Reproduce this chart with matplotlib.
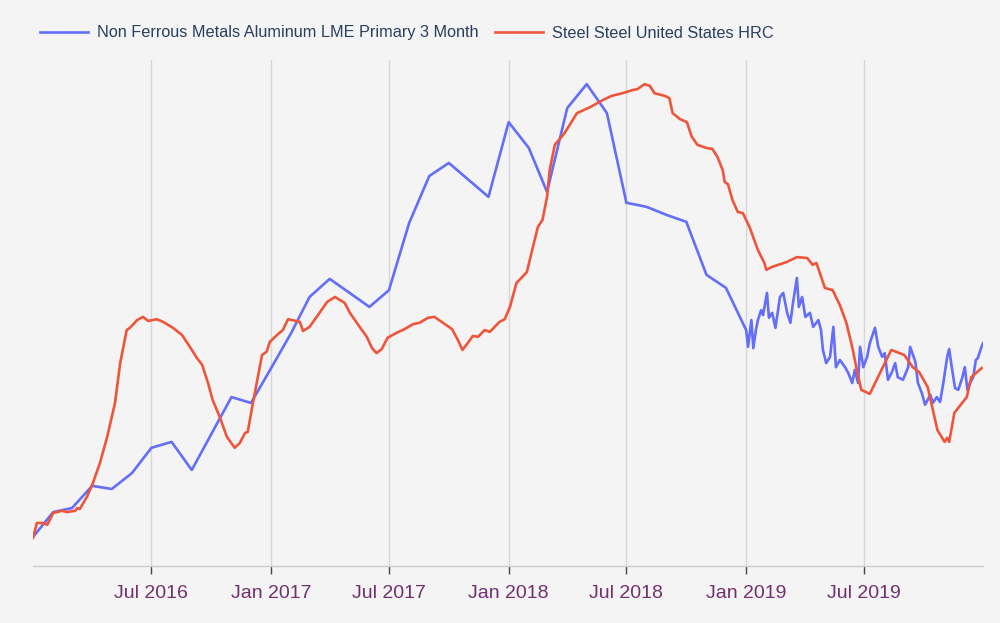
import matplotlib
matplotlib.use('Agg')
import matplotlib.pyplot as plt
import matplotlib.dates as mdates
import pandas as pd

# Aluminium, LME primary 3 month (rebased 0-100): monthly until 2019, then daily
alu_dates = [
    '2016-01-01', '2016-02-01', '2016-03-01', '2016-04-01', '2016-05-01', '2016-06-01',
    '2016-07-01', '2016-08-01', '2016-09-01', '2016-11-01', '2016-12-01', '2017-01-01',
    '2017-02-01', '2017-03-01', '2017-04-01', '2017-06-01', '2017-07-01', '2017-08-01',
    '2017-09-01', '2017-10-01', '2017-12-01', '2018-01-01', '2018-02-01', '2018-03-01',
    '2018-04-01', '2018-05-01', '2018-06-01', '2018-07-01', '2018-08-01', '2018-09-01',
    '2018-10-01', '2018-11-01', '2018-12-01', '2019-01-01',
    '2019-01-04', '2019-01-09', '2019-01-12', '2019-01-16', '2019-01-19', '2019-01-24',
    '2019-01-27', '2019-02-02', '2019-02-05', '2019-02-10', '2019-02-15', '2019-02-22',
    '2019-02-27', '2019-03-05', '2019-03-10', '2019-03-14', '2019-03-20', '2019-03-23',
    '2019-03-28', '2019-04-02', '2019-04-09', '2019-04-14', '2019-04-22', '2019-04-26',
    '2019-04-29', '2019-05-04', '2019-05-10', '2019-05-15', '2019-05-19', '2019-05-25',
    '2019-06-02', '2019-06-07', '2019-06-13', '2019-06-17', '2019-06-22', '2019-06-25',
    '2019-06-30', '2019-07-06', '2019-07-10', '2019-07-18', '2019-07-23', '2019-07-29',
    '2019-08-02', '2019-08-07', '2019-08-13', '2019-08-18', '2019-08-22', '2019-08-30',
    '2019-09-07', '2019-09-10', '2019-09-18', '2019-09-22', '2019-09-28', '2019-10-03',
    '2019-10-11', '2019-10-15', '2019-10-21', '2019-10-26', '2019-10-31', '2019-11-06',
    '2019-11-09', '2019-11-13', '2019-11-18', '2019-11-23', '2019-11-29', '2019-12-03',
    '2019-12-07', '2019-12-11', '2019-12-16', '2019-12-20', '2019-12-23', '2019-12-28',
    '2019-12-31',
]
alu_values = [
    0.2, 5.7, 6.6, 11.5, 10.8, 14.3,
    19.9, 21.2, 15.0, 31.1, 29.8, 37.5,
    45.3, 53.2, 57.2, 51.0, 54.7, 69.5,
    79.9, 82.8, 75.3, 91.8, 86.1, 76.4,
    94.9, 100.2, 93.8, 74.0, 73.1, 71.3,
    69.8, 58.1, 55.2, 45.9,
    42.2, 48.1, 41.9, 45.9, 48.1, 50.3,
    49.2, 54.1, 48.6, 49.7, 46.4, 53.2,
    54.1, 49.7, 47.5, 51.9, 57.4, 51.0,
    53.2, 48.8, 49.7, 46.6, 48.1, 45.9,
    41.5, 38.6, 40.0, 46.6, 37.7, 39.3,
    37.7, 36.4, 34.2, 37.1, 34.2, 42.2,
    37.7, 40.0, 43.0, 46.4, 42.2, 40.0,
    40.8, 34.9, 36.6, 38.6, 35.5, 34.9,
    37.7, 42.2, 38.9, 34.2, 32.0, 29.4,
    31.6, 29.8, 31.1, 30.0, 34.2, 40.0,
    41.7, 37.7, 33.1, 32.7, 35.3, 37.7,
    32.7, 34.2, 35.5, 39.3, 39.7, 41.9,
    43.0,
]

# Steel, US HRC (rebased 0-100)
steel_dates = [
    '2016-01-01', '2016-01-07', '2016-01-16', '2016-01-23', '2016-02-01', '2016-02-15',
    '2016-02-22', '2016-03-06', '2016-03-09', '2016-03-13', '2016-03-24', '2016-04-02',
    '2016-04-13', '2016-04-24', '2016-05-01', '2016-05-06', '2016-05-14', '2016-05-24',
    '2016-05-29', '2016-06-09', '2016-06-18', '2016-06-26', '2016-07-09', '2016-07-19',
    '2016-08-03', '2016-08-17', '2016-08-29', '2016-09-09', '2016-09-17', '2016-09-26',
    '2016-10-03', '2016-10-14', '2016-10-25', '2016-11-06', '2016-11-14', '2016-11-22',
    '2016-11-26', '2016-12-04', '2016-12-18', '2016-12-25', '2016-12-30', '2017-01-10',
    '2017-01-19', '2017-01-27', '2017-02-14', '2017-02-19', '2017-03-01', '2017-03-12',
    '2017-03-28', '2017-04-09', '2017-04-24', '2017-05-02', '2017-05-17', '2017-05-28',
    '2017-06-05', '2017-06-12', '2017-06-20', '2017-06-29', '2017-07-13', '2017-07-25',
    '2017-08-07', '2017-08-17', '2017-08-30', '2017-09-09', '2017-09-22', '2017-10-06',
    '2017-10-15', '2017-10-22', '2017-10-30', '2017-11-07', '2017-11-15', '2017-11-25',
    '2017-12-03', '2017-12-18', '2017-12-26', '2018-01-03', '2018-01-13', '2018-01-29',
    '2018-02-05', '2018-02-15', '2018-02-22', '2018-03-01', '2018-03-05', '2018-03-13',
    '2018-03-28', '2018-04-16', '2018-05-06', '2018-05-26', '2018-06-08', '2018-06-25',
    '2018-07-11', '2018-07-18', '2018-07-29', '2018-08-06', '2018-08-13', '2018-08-29',
    '2018-09-05', '2018-09-10', '2018-09-21', '2018-10-02', '2018-10-09', '2018-10-18',
    '2018-11-01', '2018-11-10', '2018-11-18', '2018-11-26', '2018-11-29', '2018-12-04',
    '2018-12-11', '2018-12-19', '2018-12-27', '2019-01-06', '2019-01-19', '2019-01-29',
    '2019-02-01', '2019-02-09', '2019-03-04', '2019-03-20', '2019-04-05', '2019-04-13',
    '2019-04-19', '2019-05-02', '2019-05-14', '2019-05-25', '2019-06-04', '2019-06-14',
    '2019-06-21', '2019-06-27', '2019-07-10', '2019-08-12', '2019-09-01', '2019-09-14',
    '2019-09-24', '2019-10-07', '2019-10-14', '2019-10-22', '2019-11-02', '2019-11-06',
    '2019-11-09', '2019-11-17', '2019-12-06', '2019-12-13', '2019-12-29',
]
steel_values = [
    0.0, 3.3, 3.3, 2.9, 5.5, 6.0,
    5.7, 6.0, 6.6, 6.4, 9.1, 12.1,
    16.6, 22.3, 26.7, 29.8, 38.6, 45.9,
    46.4, 48.1, 48.8, 47.9, 48.3, 47.7,
    46.4, 44.8, 42.2, 39.7, 38.2, 34.2,
    30.5, 26.7, 22.3, 19.9, 21.0, 23.2,
    23.4, 29.8, 40.4, 41.1, 43.3, 44.8,
    45.9, 48.3, 47.7, 45.7, 46.6, 48.8,
    52.1, 53.2, 51.9, 49.7, 46.6, 44.4,
    41.9, 40.8, 41.7, 44.2, 45.3, 46.1,
    47.2, 47.5, 48.6, 48.8, 47.5, 46.1,
    43.7, 41.5, 43.0, 44.6, 44.4, 45.9,
    45.5, 47.7, 48.3, 51.0, 56.3, 58.7,
    62.9, 68.7, 70.2, 75.3, 81.2, 86.8,
    89.4, 93.8, 95.1, 96.7, 97.6, 98.2,
    98.9, 99.1, 100.2, 99.8, 98.2, 97.6,
    97.1, 93.8, 92.5, 91.8, 88.7, 86.8,
    86.1, 85.9, 84.1, 81.2, 78.6, 78.1,
    74.6, 72.0, 71.7, 68.7, 63.6, 60.7,
    59.2, 59.8, 60.9, 62.0, 61.8, 60.3,
    60.7, 55.2, 54.7, 51.4, 47.5, 41.5,
    36.4, 32.7, 31.8, 41.5, 40.4, 37.7,
    36.6, 33.3, 28.9, 23.8, 21.2, 22.1,
    21.2, 27.6, 31.1, 35.5, 37.5,
]

alu_label = 'Non Ferrous Metals Aluminum LME Primary 3 Month'
steel_label = 'Steel Steel United States HRC'
tick_dates = ['2016-07-01', '2017-01-01', '2017-07-01', '2018-01-01',
              '2018-07-01', '2019-01-01', '2019-07-01']

plt.rcParams['font.family'] = ['Liberation Sans', 'DejaVu Sans']
bg = '#f4f4f4'

fig = plt.figure(figsize=(10, 6.23), dpi=100, facecolor=bg)
ax = fig.add_axes([0.033, 0.0915, 0.95, 0.812], facecolor=bg)

ax.plot(pd.to_datetime(alu_dates), alu_values, color='#636efa', lw=1.9, label=alu_label)
ax.plot(pd.to_datetime(steel_dates), steel_values, color='#ef553b', lw=1.9, label=steel_label)

ax.set_xlim(pd.Timestamp('2016-01-01'), pd.Timestamp('2019-12-31'))
ax.set_ylim(-6.2, 105.5)

ax.set_xticks(pd.to_datetime(tick_dates))
ax.xaxis.set_major_formatter(mdates.DateFormatter('%b %Y'))
ax.tick_params(axis='x', colors='#444444', length=6, width=1, pad=8,
               labelsize=14, labelcolor='#73306f')
ax.set_yticks([])
ax.grid(axis='x', color='#d6d6d6', lw=1)

for side in ['top', 'right', 'left']:
    ax.spines[side].set_visible(False)
ax.spines['bottom'].set_color('#cccccc')
ax.spines['bottom'].set_linewidth(1)

fig.legend(loc='center left', bbox_to_anchor=(0.04, 1 - 33 / 623), ncol=2,
           frameon=False, fontsize=11.7, labelcolor='#2a3f5f', borderpad=0,
           borderaxespad=0, handlelength=2.95, handletextpad=0.55, columnspacing=1.05)

fig.savefig('out.png', dpi=100, facecolor=bg)
